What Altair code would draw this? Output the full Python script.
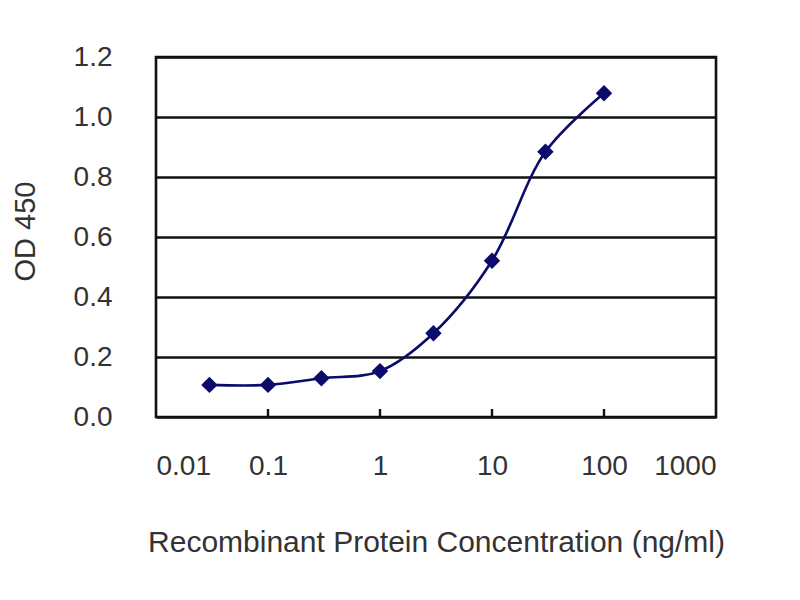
import altair as alt
import pandas as pd

concentration = [0.03, 0.1, 0.3, 1, 3, 10, 30, 100]
od450 = [0.107, 0.107, 0.129, 0.153, 0.279, 0.521, 0.884, 1.079]
x_ticks = [0.01, 0.1, 1, 10, 100, 1000]
inner_ticks = [0.1, 1, 10, 100]
y_ticks = [0.0, 0.2, 0.4, 0.6, 0.8, 1.0, 1.2]

df = pd.DataFrame({"conc": concentration, "od": od450})
tick_df = pd.DataFrame({"t": inner_ticks})

W, H = 560, 360
FONT = "Liberation Sans"
TXT = "#333333"
NAVY = "#0b0b6b"

xscale = alt.Scale(type="log", domain=[0.01, 1000])
yscale = alt.Scale(domain=[0, 1.2])

line = alt.Chart(df).mark_line(color=NAVY, strokeWidth=2.6, interpolate="catmull-rom").encode(
    x=alt.X("conc:Q", scale=xscale,
            axis=alt.Axis(values=x_ticks, title="Recombinant Protein Concentration (ng/ml)",
                          labelExpr="datum.value >= 1 ? format(datum.value, 'd') : format(datum.value, '')",
                          grid=False, ticks=False, domain=False, labelPadding=35,
                          labelFontSize=28, labelFont=FONT, labelColor=TXT,
                          titleFontSize=30, titleFont=FONT, titleColor=TXT, titleFontWeight="normal",
                          titleY=134, titleBaseline="alphabetic")),
    y=alt.Y("od:Q", scale=yscale,
            axis=alt.Axis(values=y_ticks, format=".1f", title="OD 450",
                          grid=True, gridColor="#111111", gridWidth=2.6,
                          ticks=False, domain=False, labelPadding=44,
                          labelFontSize=28, labelFont=FONT, labelColor=TXT,
                          titleFontSize=29, titleFont=FONT, titleColor=TXT, titleFontWeight="normal",
                          titleX=-131, titleY=174, titleAngle=-90,
                          titleAlign="center", titleBaseline="middle")),
)

points = alt.Chart(df).mark_point(shape="diamond", filled=True, color=NAVY, size=270, opacity=1).encode(
    x=alt.X("conc:Q", scale=xscale),
    y=alt.Y("od:Q", scale=yscale),
)

ticks = alt.Chart(tick_df).mark_rule(color="#111111", strokeWidth=2.4).encode(
    x=alt.X("t:Q", scale=xscale),
    y=alt.value(H - 8),
    y2=alt.value(H),
)

chart = alt.layer(line, ticks, points).properties(
    width=W, height=H,
    autosize=alt.AutoSizeParams(type="none"),
    padding={"left": 148, "top": 49, "right": 76, "bottom": 175},
    background="white",
).configure_view(stroke="#111111", strokeWidth=2.6)

chart.save("out.html", embed_options={"renderer": "svg", "actions": False})
